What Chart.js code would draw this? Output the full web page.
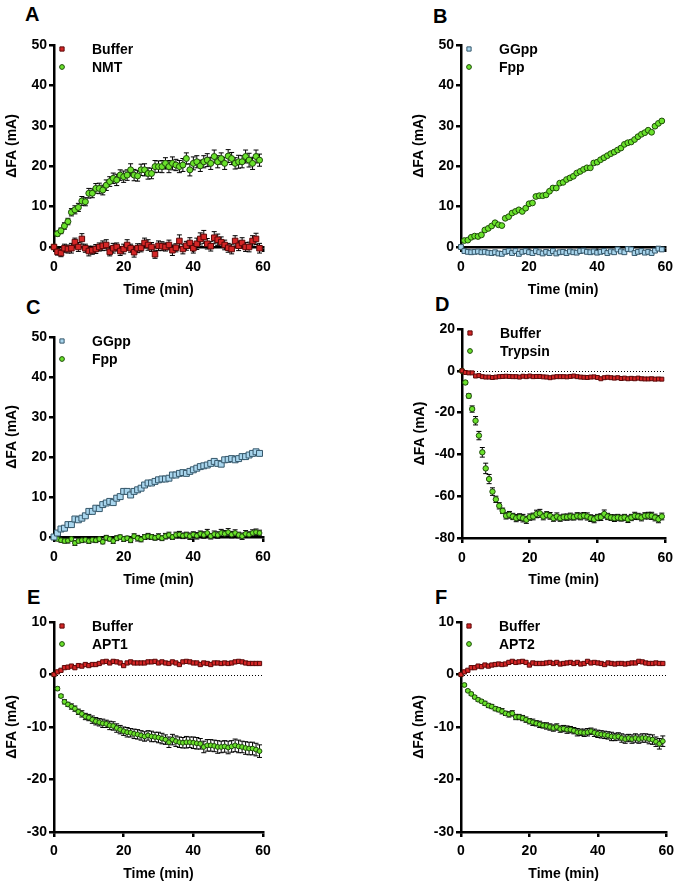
<!DOCTYPE html>
<html>
<head>
<meta charset="utf-8">
<script src="https://cdn.jsdelivr.net/npm/chart.js@4/dist/chart.umd.min.js"></script>
<style>
  body { margin: 0; background: #fff; }
  #fig { position: relative; width: 683px; height: 886px; overflow: hidden; }
  #fig canvas { position: absolute; }
  .letter { position: absolute; font: bold 20px/20px "Liberation Sans", Arial, sans-serif; color: #000; }
</style>
</head>
<body>
<div id="fig">
  <div class="letter" style="left:25px;top:4px">A</div>
  <div class="letter" style="left:433px;top:6px">B</div>
  <div class="letter" style="left:26px;top:297px">C</div>
  <div class="letter" style="left:435px;top:294px">D</div>
  <div class="letter" style="left:27px;top:587px">E</div>
  <div class="letter" style="left:435px;top:587px">F</div>
  <canvas id="cA"></canvas>
  <canvas id="cB"></canvas>
  <canvas id="cC"></canvas>
  <canvas id="cD"></canvas>
  <canvas id="cE"></canvas>
  <canvas id="cF"></canvas>
</div>
<script>
// time points (min)
const minutes = [0,1,2,3,4,5,6,7,8,9,10,11,12,13,14,15,16,17,18,19,
  20,21,22,23,24,25,26,27,28,29,30,31,32,33,34,35,36,37,38,39,
  40,41,42,43,44,45,46,47,48,49,50,51,52,53,54,55,56,57,58,59];
const xTicks = [0, 20, 40, 60];

// A: Buffer vs NMT
const aBuffer = [0,-1.2,-1.5,-0.3,-0.5,-0.3,1.2,0,2,-0.3,-1,-0.8,-0.5,0,0.3,0.5,-1.2,-0.3,0,-1,
  -0.5,0.5,-0.3,-1.3,-0.3,-0.2,1,0.5,0,-1.8,0.3,0.2,0,0.5,-0.8,-0.2,1.5,-0.5,0.3,1,
  -0.3,0.8,2,2.5,0.8,0.2,2.3,1.8,1.2,0.5,-0.2,-0.5,1.5,0.3,1,0,0,1.5,2,-0.3];
const aBufferErr = [0,0.8,0.9,1,1,1.2,1,1.1,1.3,1,1.2,1,1.1,1,1.2,1.3,1,1.2,1,1.1,
  1.2,1.3,1,1.2,1.1,1,1.2,1.3,1.1,1,1.2,1.1,1,1.2,1.3,1,1.5,1.2,1.1,1.3,
  1.2,1.4,1.5,1.6,1.3,1.2,1.5,1.4,1.3,1.2,1.1,1.2,1.3,1.2,1.3,1.1,1.2,1.3,1.4,1.2];
const aNMT = [0,3.3,4,5.2,6.3,8.6,9.2,9.8,11.4,11.2,13.3,13.3,14.5,14.5,14.1,15.3,16.2,17,16.6,17.8,
  17.4,17.8,19.1,17.8,17.6,19.1,19.1,18.2,18.2,19.9,19.9,19.9,20.7,19.9,20.7,20.3,19.9,20.3,21.9,19.1,
  20.7,21.1,20.1,21.1,21.5,20.7,22.4,21.1,21.9,20.7,22.5,21.9,20.7,21.1,21.1,22.4,21.5,20.7,22.4,21.5];
const aNMTErr = [0,0.6,0.7,0.8,0.8,0.9,1,1,1.1,1,1.2,1.1,1.2,1.3,1.2,1.3,1.2,1.3,1.4,1.3,
  1.4,1.3,1.5,1.4,1.3,1.4,1.5,1.4,1.3,1.5,1.4,1.5,1.4,1.5,1.6,1.4,1.5,1.6,1.4,1.5,
  1.6,1.5,1.4,1.5,1.6,1.5,1.6,1.5,1.4,1.5,1.6,1.5,1.4,1.6,1.5,1.6,1.7,1.5,1.6,1.5];

// B: GGpp vs Fpp
const bGGpp = [0,-1,-1.2,-1.3,-1.2,-1.1,-1.3,-1.2,-1.4,-1.5,-1.3,-1.6,-1.7,-1.2,-1,-1.5,-1,-1.7,-1.2,-1,
  -1.3,-1.5,-1,-1.3,-1.6,-1.2,-1.5,-1,-1.6,-1.3,-1.2,-1.5,-1.1,-1.3,-1.4,-1,-0.9,-1.2,-1.3,-1.1,
  -1.4,-1.2,-1,-1.5,-1.1,-1.3,-0.6,-1.1,-1.3,-0.5,-0.6,-1.5,-1.2,-1,-1.4,-1.2,-1.5,-0.9,-0.4,-0.6];
const bFpp = [0,1.6,1.7,2.4,2.7,2.6,3,4.2,4.6,5.2,6,5.5,5.3,7.1,7.5,8.4,8.8,9.2,8.8,9.6,
  10.7,10.9,12.5,12.7,12.7,12.9,13.8,14.6,14.6,15.8,16,16.7,17.1,17.5,18.3,18.7,19.2,19.6,19.6,20.8,
  21,21.6,22.1,22.6,23.1,23.5,24,24.5,25.4,25.8,26,26.6,27.3,27.9,28.3,28.9,28.4,29.9,30.6,31.2];

// C: GGpp vs Fpp
const cGGpp = [0,1,2,2.2,3.1,3.1,4.5,4.3,4.7,5.3,6.4,6.4,7.2,7.1,8.1,8.5,8.9,8.6,9.7,10.1,
  11.4,11.4,10.5,11.4,11.8,12.2,13,13.5,13.5,13.9,14.3,14.5,14.5,14.7,15.5,15.5,15.9,16.1,15.9,16.4,
  16.8,17.2,17.6,17.8,18,18.4,18.9,18.4,18.2,19.3,19.4,19.6,19.3,19.6,20.1,20.1,20.5,20.9,21.3,20.9];
const cFpp = [0,-0.5,-0.8,-1,-0.9,-0.5,-1.5,-1,-0.8,-0.7,-1,-0.7,-0.8,-0.5,-1.2,-0.2,-0.5,-1,-0.3,0,
  -0.5,-0.3,-0.8,0.2,-0.3,-0.6,0,0.2,0,-0.2,0.1,-0.3,0.2,0.5,0,0.5,0.6,0.3,0.5,0.2,
  0.6,0.3,0.8,0.5,1,0.2,0.7,0.5,1,0.8,1.2,0.6,1,0.5,0.2,0.8,0.6,1,1.2,1];
const cFppErr = [0,0.4,0.5,0.5,0.6,0.5,0.6,0.5,0.6,0.5,0.6,0.5,0.6,0.6,0.5,0.6,0.5,0.6,0.6,0.5,
  0.6,0.5,0.6,0.6,0.7,0.6,0.6,0.7,0.6,0.6,0.7,0.6,0.7,0.7,0.6,0.7,0.8,0.7,0.7,0.8,
  0.7,0.8,0.7,0.8,0.9,0.7,0.8,0.8,0.9,0.8,0.9,0.8,0.8,0.7,0.8,0.8,0.7,0.8,0.8,0.7];

// D: Buffer vs Trypsin
const dBuffer = [0,-0.8,-1,-1,-2.5,-2.3,-2.8,-3,-3,-3.2,-3,-2.8,-2.7,-2.6,-2.7,-2.8,-2.8,-3,-2.6,-2.8,
  -2.5,-2.8,-2.7,-2.7,-2.9,-3,-3.3,-3,-2.8,-2.8,-2.8,-2.9,-2.7,-2.5,-2.8,-3,-3.1,-3.2,-3,-2.9,
  -3.2,-3.8,-3.3,-3.1,-3.3,-3.5,-3.3,-3.7,-3.5,-3.8,-3.6,-3.8,-3.5,-3.8,-3.9,-3.9,-3.8,-4,-3.9,-4];
const dTrypsin = [0,-5.6,-12,-18.3,-23.9,-31,-39,-46.7,-51.8,-57.8,-61.5,-64.6,-67,-69.4,-68.9,-69.7,-70.5,-70,-70.5,-71.3,
  -70,-69.7,-68.5,-68.2,-69.7,-68.9,-69.4,-70.5,-69.7,-70.5,-70,-70,-69.7,-70,-69.4,-69.7,-69.3,-69.7,-70.5,-71,
  -70.2,-70,-68.5,-69.7,-70.2,-70.5,-70.2,-70.5,-70.2,-71,-70.2,-69.4,-69.7,-70.2,-69.4,-69.3,-69.4,-70.2,-71,-69.7];
const dTrypsinErr = [0,0.8,1,1.5,2,2,2.3,2.5,2.2,1.8,1.5,1.5,1.3,1.5,1.6,1.5,1.7,1.6,1.8,1.7,
  1.5,1.6,1.8,1.9,1.6,1.5,1.6,1.5,1.7,1.5,1.4,1.5,1.6,1.4,1.5,1.6,1.5,1.7,1.6,1.7,
  1.5,1.6,1.9,1.5,1.4,1.6,1.5,1.4,1.5,1.6,1.5,1.7,1.5,1.6,1.5,1.6,1.7,1.6,1.7,1.6];

// E: Buffer vs APT1
const eBuffer = [0,0.5,0.8,1.3,1.4,1.6,1.3,1.7,1.6,1.9,1.7,1.9,1.9,2.1,2.4,2.5,2.2,2.5,2.4,2.2,
  1.7,2.2,2.4,2.2,2.2,2.2,2.2,2.4,2.4,2.5,2.2,2.4,2.2,2.1,2.4,2.2,1.9,2.4,2.5,2.4,
  2.2,2.2,1.9,2.2,2.1,1.9,2.2,2.2,2.1,2.2,2.1,2.2,2.4,2.5,2.4,2.2,2.1,2.1,2.1,2.1];
const eAPT1 = [0,-2.7,-4.1,-5.2,-5.7,-6.1,-6.5,-7.1,-7.5,-8,-8.2,-8.6,-8.9,-9.1,-9.3,-9.4,-9.7,-9.8,-10.2,-10.5,
  -10.8,-11,-11.1,-11.3,-11.4,-11.6,-11.8,-11.6,-11.8,-11.9,-12,-12.2,-12.4,-12.9,-12.4,-12.7,-12.9,-13,-12.9,-12.9,
  -13,-13.1,-13.2,-13.8,-13.5,-13.5,-13.6,-13.8,-13.8,-13.7,-13.9,-13.7,-13.5,-13.7,-13.8,-14,-14.1,-14.1,-14.3,-14.6];
const eAPT1Err = [0,0.3,0.3,0.4,0.4,0.5,0.5,0.5,0.6,0.6,0.6,0.7,0.7,0.7,0.8,0.7,0.8,0.8,0.8,0.8,
  0.8,0.9,0.8,0.9,0.9,0.9,0.9,0.9,1,0.9,1,1,0.9,1,1,1,1,1,1.1,1,
  1.1,1.1,1,1.1,1.1,1.1,1.1,1.2,1.1,1.1,1.2,1.1,1.2,1.2,1.1,1.2,1.2,1.2,1.2,1.2];

// F: Buffer vs APT2
const fBuffer = [0,0.5,0.8,1.3,1.3,1.6,1.5,1.8,1.6,1.8,1.9,2,1.9,2,2.3,2.5,2.3,2.4,2.5,2.3,
  1.8,2.2,2.1,2.1,2.1,2.2,2.3,2.1,2.3,2,2.1,2.2,2.3,2.1,2.3,2,2.1,2.5,2.2,2.3,
  2.2,2.1,1.9,2.2,2.1,2,2.1,2.1,2,2.1,2.2,2.2,2.5,2.4,2.2,2.1,2.1,2.2,2.1,2.1];
const fAPT2 = [0,-2,-3.1,-3.7,-4.3,-4.8,-5.1,-5.5,-5.9,-6.1,-6.5,-6.7,-7,-7.4,-7.6,-7.4,-8.1,-8.1,-8.3,-8.6,
  -8.9,-9.1,-9.3,-9.5,-9.7,-9.8,-10,-10.2,-10,-10.4,-10.3,-10.5,-10.5,-10.7,-11,-11,-11.1,-11,-10.8,-11.1,
  -11.3,-11.4,-11.5,-11.6,-11.8,-11.9,-11.8,-12.1,-12.3,-12.1,-12.3,-12.1,-12.3,-12.1,-12.1,-12.3,-12.4,-12.8,-13.2,-12.7];
const fAPT2Err = [0,0.2,0.2,0.3,0.3,0.3,0.3,0.4,0.4,0.4,0.4,0.4,0.5,0.4,0.5,0.5,0.5,0.5,0.5,0.5,
  0.5,0.6,0.5,0.6,0.5,0.6,0.6,0.6,0.6,0.6,0.6,0.7,0.6,0.6,0.7,0.6,0.7,0.7,0.6,0.7,
  0.7,0.7,0.7,0.7,0.8,0.7,0.7,0.8,0.8,0.7,0.8,0.8,0.8,0.8,0.8,0.9,0.9,0.9,1,1];

const FONT = '"Liberation Sans", Arial, Helvetica, sans-serif';
Chart.defaults.font.family = FONT;
Chart.defaults.font.weight = 'bold';
Chart.defaults.font.size = 14;
Chart.defaults.color = '#000';

const RED = { bg: '#d42626', border: '#5c0808', style: 'rect' };
const GREEN = { bg: '#6ae22c', border: '#1e4a0a', style: 'circle' };
const BLUE = { bg: '#a9d6ee', border: '#35576a', style: 'rect' };

// dotted baseline at zero
const zeroLine = {
  id: 'zeroLine',
  beforeDatasetsDraw(chart, args, opts) {
    if (!opts.display) return;
    const ctx = chart.ctx, xs = chart.scales.x;
    const y = Math.round(chart.scales.y.getPixelForValue(0)) + 0.5;
    ctx.save();
    ctx.strokeStyle = '#000';
    ctx.lineWidth = 1;
    ctx.setLineDash([1, 2]);
    ctx.beginPath();
    ctx.moveTo(xs.left, y); ctx.lineTo(xs.right, y);
    ctx.stroke();
    ctx.restore();
  }
};

// vertical SEM bars, drawn under the markers
const errorBars = {
  id: 'errorBars',
  beforeDatasetsDraw(chart) {
    const ctx = chart.ctx, xs = chart.scales.x, ys = chart.scales.y;
    ctx.save();
    ctx.strokeStyle = '#000';
    ctx.lineWidth = 1;
    chart.data.datasets.forEach(ds => {
      if (!ds.errors) return;
      ds.data.forEach((p, i) => {
        const e = ds.errors[i];
        if (!e) return;
        const x = xs.getPixelForValue(p.x);
        const y1 = ys.getPixelForValue(p.y + e), y2 = ys.getPixelForValue(p.y - e);
        ctx.beginPath();
        ctx.moveTo(x, y1); ctx.lineTo(x, y2);
        ctx.moveTo(x - 2.5, y1); ctx.lineTo(x + 2.5, y1);
        ctx.moveTo(x - 2.5, y2); ctx.lineTo(x + 2.5, y2);
        ctx.stroke();
      });
    });
    ctx.restore();
  }
};

// points just below the x axis must still be drawn (like Prism does)
const looseArea = {
  id: 'looseArea',
  beforeDatasetsDraw(chart) {
    const a = chart.chartArea;
    chart._plotArea = a;
    chart.chartArea = { left: a.left - 20, right: a.right + 20, top: a.top - 20, bottom: a.bottom + 20,
      width: a.width + 40, height: a.height + 40 };
  },
  afterDatasetsDraw(chart) {
    if (chart._plotArea) chart.chartArea = chart._plotArea;
  }
};

// legend inside the top-left corner of the plot
const panelLegend = {
  id: 'panelLegend',
  afterDraw(chart) {
    const ctx = chart.ctx, a = chart.chartArea;
    ctx.save();
    chart.data.datasets.forEach((ds, i) => {
      const y = a.top + 4 + i * 18;
      ctx.fillStyle = ds.backgroundColor;
      ctx.strokeStyle = ds.borderColor;
      ctx.lineWidth = 1;
      Chart.helpers.drawPoint(ctx, { pointStyle: ds.pointStyle, radius: ds.pointStyle === 'rect' ? 3 : 2.4, borderWidth: 1, rotation: 0 }, a.left + 8, y);
      ctx.fillStyle = '#000';
      ctx.font = 'bold 14px ' + FONT;
      ctx.textBaseline = 'middle';
      ctx.textAlign = 'left';
      ctx.fillText(ds.label, a.left + 38, y + 1);
    });
    ctx.restore();
  }
};

function series(label, values, look, radius, errors) {
  return {
    label: label,
    data: minutes.map((t, i) => ({ x: t, y: values[i] })),
    errors: errors,
    pointStyle: look.style,
    backgroundColor: look.bg,
    borderColor: look.border,
    borderWidth: 1,
    pointRadius: radius,
    clip: false
  };
}

function panel(id, box, y, datasets, zero) {
  const cv = document.getElementById(id);
  const h = box.bottom + box.xH;
  cv.style.left = box.left + 'px';
  cv.style.top = box.top + 'px';
  cv.style.width = '340px';
  cv.style.height = h + 'px';
  cv.width = 340; cv.height = h;
  const axisLine = { display: true, color: '#000', width: 2.5 };
  const tickMarks = { display: true, drawOnChartArea: false, drawTicks: true, tickLength: 5, color: '#000', lineWidth: 2.5 };
  return new Chart(cv, {
    type: 'scatter',
    data: { datasets: datasets },
    options: {
      responsive: false,
      animation: false,
      events: [],
      layout: { padding: { left: box.padL, right: box.padR, top: box.padT, bottom: 0 } },
      scales: {
        x: {
          type: 'linear', min: 0, max: 60,
          border: axisLine, grid: tickMarks,
          afterBuildTicks: s => { s.ticks = xTicks.map(v => ({ value: v })); },
          ticks: { padding: box.tickPad, font: { size: 14, weight: 'bold' } },
          title: { display: true, text: 'Time (min)', font: { size: 14, weight: 'bold', lineHeight: 1.2 }, padding: { top: 0, bottom: 3 } },
          afterFit: s => { s.height = box.xH; }
        },
        y: {
          type: 'linear', min: y.min, max: y.max,
          border: axisLine, grid: tickMarks,
          ticks: { stepSize: y.step, padding: 2, font: { size: 14, weight: 'bold' } },
          title: { display: true, text: 'ΔFA (mA)', font: { size: 14, weight: 'bold', lineHeight: 1.2 }, padding: { top: 4, bottom: 0 } },
          afterFit: s => { s.width = 54; }
        }
      },
      plugins: {
        legend: { display: false },
        tooltip: { enabled: false },
        zeroLine: { display: !!zero }
      }
    },
    plugins: [zeroLine, errorBars, looseArea, panelLegend]
  });
}

panel('cA', { left: 0, top: 0, padL: 0, padR: 77, padT: 45, bottom: 247, xH: 55, tickPad: 7 },
  { min: 0, max: 50, step: 10 },
  [series('Buffer', aBuffer, RED, 3.9, aBufferErr), series('NMT', aNMT, GREEN, 3, aNMTErr)]);

panel('cB', { left: 340, top: 0, padL: 67, padR: 10, padT: 45, bottom: 247, xH: 55, tickPad: 7 },
  { min: 0, max: 50, step: 10 },
  [series('GGpp', bGGpp, BLUE, 3.4), series('Fpp', bFpp, GREEN, 2.9)]);

panel('cC', { left: 0, top: 290, padL: 0, padR: 77, padT: 47, bottom: 247, xH: 55, tickPad: 7 },
  { min: 0, max: 50, step: 10 },
  [series('GGpp', cGGpp, BLUE, 4.2), series('Fpp', cFpp, GREEN, 2.4, cFppErr)]);

panel('cD', { left: 340, top: 290, padL: 68, padR: 10, padT: 39, bottom: 248, xH: 54, tickPad: 7 },
  { min: -80, max: 20, step: 20 },
  [series('Buffer', dBuffer, RED, 2.8), series('Trypsin', dTrypsin, GREEN, 2.7, dTrypsinErr)], true);

panel('cE', { left: 0, top: 580, padL: 0, padR: 77, padT: 42, bottom: 252, xH: 54, tickPad: 6 },
  { min: -30, max: 10, step: 10 },
  [series('Buffer', eBuffer, RED, 3), series('APT1', eAPT1, GREEN, 2.4, eAPT1Err)], true);

panel('cF', { left: 340, top: 580, padL: 67, padR: 10, padT: 42, bottom: 252, xH: 54, tickPad: 6 },
  { min: -30, max: 10, step: 10 },
  [series('Buffer', fBuffer, RED, 3), series('APT2', fAPT2, GREEN, 2.4, fAPT2Err)], true);
</script>
</body>
</html>
